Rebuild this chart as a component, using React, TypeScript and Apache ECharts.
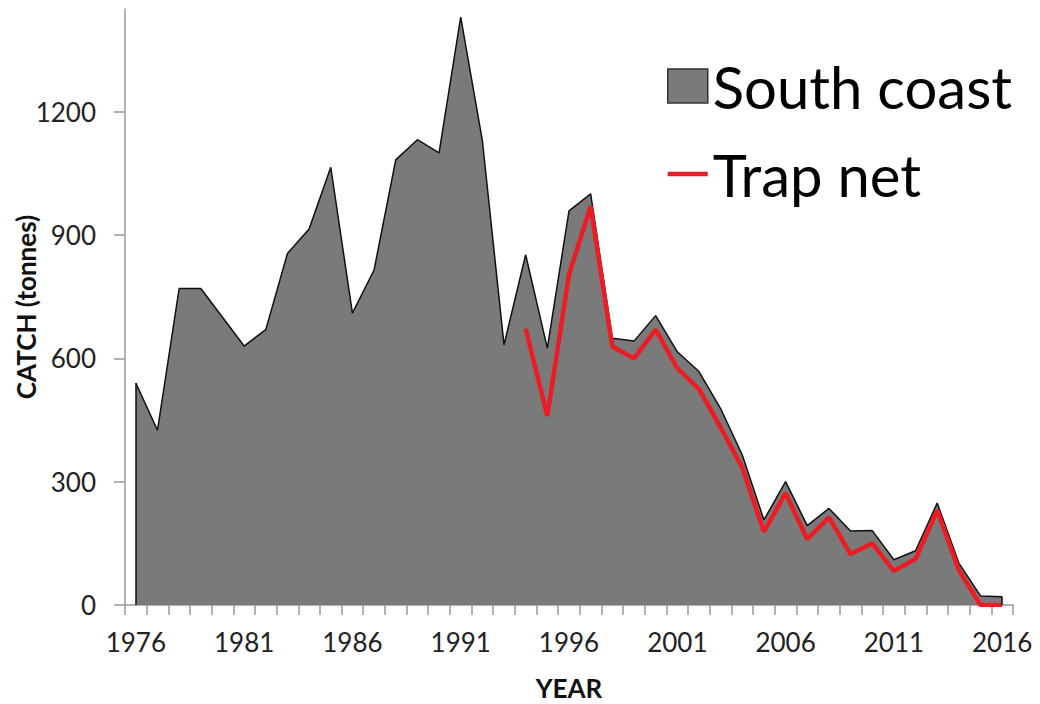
import React, { useEffect, useRef } from "react";
import * as echarts from "echarts";

const years = [
  "1976", "1977", "1978", "1979", "1980", "1981", "1982", "1983", "1984", "1985",
  "1986", "1987", "1988", "1989", "1990", "1991", "1992", "1993", "1994", "1995",
  "1996", "1997", "1998", "1999", "2000", "2001", "2002", "2003", "2004", "2005",
  "2006", "2007", "2008", "2009", "2010", "2011", "2012", "2013", "2014", "2015",
  "2016",
];

const southCoast = [
  540, 425, 770, 770, 700, 630, 670, 855, 915, 1065,
  710, 815, 1083, 1132, 1100, 1430, 1130, 633, 852, 625,
  959, 1000, 649, 642, 704, 616, 568, 478, 365, 207,
  300, 193, 235, 180, 181, 110, 132, 248, 102, 22,
  20,
];

const trapNet: (number | null)[] = [
  null, null, null, null, null, null, null, null, null, null,
  null, null, null, null, null, null, null, null, 672, 460,
  804, 970, 629, 600, 670, 576, 525, 432, 334, 178,
  272, 160, 213, 124, 150, 83, 112, 230, 85, 0,
  0,
];

const yTicks = [0, 300, 600, 900, 1200];

const FONT = "Lato, 'Open Sans', sans-serif";

export default function App() {
  const ref = useRef<HTMLDivElement>(null);

  useEffect(() => {
    if (!ref.current) return;
    const chart = echarts.init(ref.current, null, { renderer: "svg" });
    const last = years.length - 1;
    chart.setOption({
      animation: false,
      backgroundColor: "#ffffff",
      textStyle: { fontFamily: FONT },
      grid: {
        left: 125,
        right: 27,
        top: 9,
        bottom: 99,
        containLabel: false,
        outerBoundsMode: "none",
      },
      legend: {
        orient: "vertical",
        left: 667,
        top: 56,
        padding: 0,
        itemWidth: 40,
        itemHeight: 34,
        itemGap: 28,
        textStyle: { fontSize: 58, lineHeight: 60, color: "#000", fontFamily: FONT },
        data: [
          {
            name: "South coast",
            icon: "rect",
            itemStyle: { color: "#7a7a7a", borderColor: "#333", borderWidth: 1.5 },
          },
          {
            name: "Trap net",
            icon: "path://M0,0 H40 V4.5 H0 Z",
            itemStyle: { color: "#ed1c24", borderWidth: 0 },
          },
        ],
      },
      xAxis: {
        type: "category",
        data: years,
        boundaryGap: true,
        name: "YEAR",
        nameLocation: "middle",
        nameGap: 70,
        nameMoveOverlap: false,
        nameTextStyle: { fontSize: 26, fontWeight: "bold", color: "#111", fontFamily: FONT },
        axisLine: { show: true, lineStyle: { color: "#999", width: 1.5 } },
        axisTick: { show: true, interval: 0, length: 10, lineStyle: { color: "#999", width: 1.5 } },
        axisLabel: { interval: 4, fontSize: 26, color: "#222", margin: 24, fontFamily: FONT },
        splitLine: { show: false },
      },
      yAxis: {
        type: "value",
        min: 0,
        max: 1450,
        interval: 300,
        name: "CATCH (tonnes)",
        nameLocation: "middle",
        nameGap: 86,
        nameMoveOverlap: false,
        nameTextStyle: { fontSize: 26, fontWeight: "bold", color: "#111", fontFamily: FONT },
        axisLine: { show: true, lineStyle: { color: "#999", width: 1.5 } },
        axisTick: {
          show: true,
          length: 11,
          customValues: yTicks,
          lineStyle: { color: "#999", width: 1.5 },
        },
        axisLabel: {
          fontSize: 26,
          color: "#222",
          margin: 29,
          customValues: yTicks,
          fontFamily: FONT,
          formatter: (v: number) => String(v),
        },
        splitLine: { show: false },
      },
      series: [
        {
          name: "South coast",
          type: "line",
          data: southCoast,
          symbol: "none",
          color: "#7a7a7a",
          lineStyle: { color: "#111", width: 1.5 },
          areaStyle: { color: "#7a7a7a", opacity: 1 },
          z: 2,
          markLine: {
            silent: true,
            symbol: "none",
            label: { show: false },
            lineStyle: { color: "#111", width: 1.5, type: "solid" },
            data: [
              [
                { coord: [years[0], 0] },
                { coord: [years[0], southCoast[0]] },
              ],
              [
                { coord: [years[last], 0] },
                { coord: [years[last], southCoast[last]] },
              ],
            ],
          },
        },
        {
          name: "Trap net",
          type: "line",
          data: trapNet,
          symbol: "none",
          color: "#ed1c24",
          lineStyle: { color: "#ed1c24", width: 4.5 },
          z: 3,
        },
      ],
    });
    return () => chart.dispose();
  }, []);

  return (
    <div
      ref={ref}
      style={{ position: "fixed", left: 0, top: 0, width: 1040, height: 704, background: "#fff" }}
    />
  );
}
